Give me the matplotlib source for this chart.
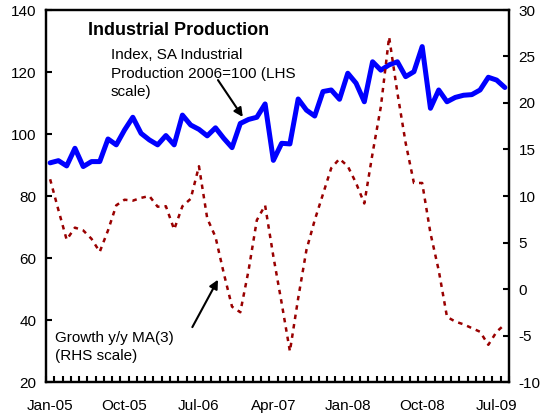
import matplotlib
matplotlib.use("Agg")
import matplotlib.pyplot as plt
import numpy as np

plt.rcParams['font.family'] = ['Liberation Sans', 'DejaVu Sans']
plt.rcParams['axes.unicode_minus'] = False

months = ["Jan-05", "Oct-05", "Jul-06", "Apr-07", "Jan-08", "Oct-08", "Jul-09"]
n_months = 56  # Jan-05 .. Aug-09

ip_index = [90.7, 91.4, 89.7, 95.4, 89.5, 91.1, 91.1, 98.4, 96.5, 101.3,
            105.4, 100.2, 98.1, 96.5, 99.5, 96.5, 106.1, 102.9, 101.5, 99.4,
            102.0, 98.6, 95.6, 103.4, 104.7, 105.4, 109.7, 91.5, 97.0, 96.8,
            111.3, 107.7, 105.8, 113.7, 114.2, 111.2, 119.6, 116.4, 110.4, 123.3,
            120.6, 122.3, 123.3, 118.5, 120.1, 128.2, 108.3, 114.2, 110.4, 111.8,
            112.5, 112.7, 114.2, 118.3, 117.4, 115.0]

growth_ma3 = [11.8, 8.5, 5.3, 6.6, 6.3, 5.4, 4.0, 6.3, 9.0, 9.6,
              9.5, 9.8, 10.0, 8.85, 8.9, 6.4, 8.9, 9.7, 13.2, 7.6,
              5.6, 1.7, -1.9, -2.5, 2.0, 7.4, 9.0, 3.5, -1.5, -6.7,
              -1.0, 4.2, 7.4, 10.2, 13.0, 14.0, 13.2, 11.4, 9.2, 14.6,
              19.6, 27.1, 21.1, 15.7, 11.4, 11.4, 6.0, 2.0, -3.0, -3.5,
              -3.8, -4.2, -4.6, -6.0, -4.6, -3.8]

x = np.arange(n_months)

fig = plt.figure(figsize=(5.44, 4.19), dpi=100)
ax = fig.add_axes([46/544, 1-382/419, (509-46)/544, (382-10)/419])
ax2 = ax.twinx()

ax.plot(x, ip_index, color='#0000FF', lw=3.6, solid_joinstyle='round', solid_capstyle='round', zorder=3)
ax2.plot(x, growth_ma3, color='#990000', lw=1.8, linestyle=(0, (1.8, 2.0)), zorder=3)

ax.set_xlim(-0.5, n_months - 0.5)
ax.set_ylim(20, 140)
ax2.set_ylim(-10, 30)
ax.set_yticks(np.arange(20, 141, 20))
ax2.set_yticks(np.arange(-10, 31, 5))

ax.set_xticks(np.arange(0, n_months, 9))
ax.set_xticklabels(months)
ax.set_xticks(np.arange(-0.5, n_months, 1), minor=True)
ax.tick_params(axis='x', which='major', length=0, pad=12, labelsize=11)
ax.tick_params(axis='x', which='minor', direction='in', length=4, width=1.5)
ax.tick_params(axis='y', direction='in', length=4, width=1.5, pad=7, labelsize=11)
ax2.tick_params(axis='y', direction='in', length=4, width=1.5, pad=7, labelsize=11)
ax2.tick_params(axis='x', which='both', length=0)

for a in (ax, ax2):
    for s in a.spines.values():
        s.set_linewidth(1.6)
        s.set_color('black')

ax.text(4.55, 131.9, "Industrial Production", fontsize=13, fontweight='bold', va='baseline', ha='left')
ax.text(7.36, 127.6, "Index, SA Industrial\nProduction 2006=100 (LHS\nscale)", fontsize=11,
        va='top', ha='left', linespacing=1.38)
ax.annotate("", xy=(23.3, 105.5), xytext=(20.3, 117.4),
            arrowprops=dict(arrowstyle='-|>', color='black', lw=1.5, mutation_scale=13,
                            shrinkA=0, shrinkB=0))

ax2.text(0.6, -4.5, "Growth y/y MA(3)\n(RHS scale)", fontsize=11, va='top', ha='left', linespacing=1.4)
ax2.annotate("", xy=(20.3, 1.0), xytext=(17.2, -4.1),
             arrowprops=dict(arrowstyle='-|>', color='black', lw=1.5, mutation_scale=13,
                             shrinkA=0, shrinkB=0))

fig.savefig("out.png", dpi=100)
